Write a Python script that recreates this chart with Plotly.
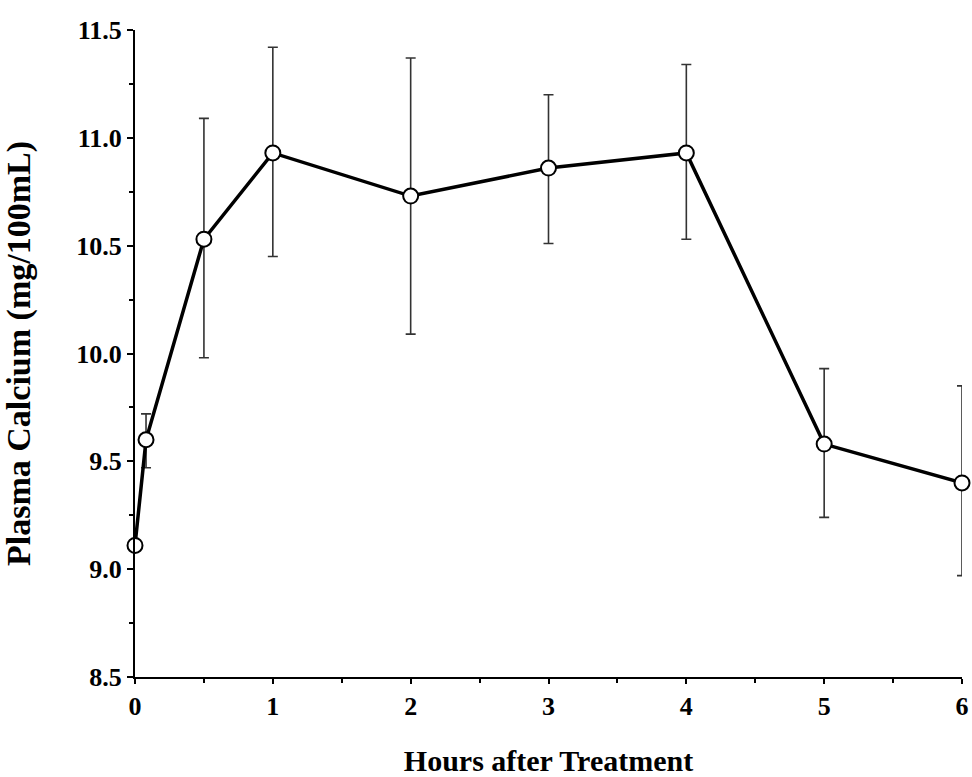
import plotly.graph_objects as go

hours = [0, 0.08, 0.5, 1, 2, 3, 4, 5, 6]
calcium_mean = [9.11, 9.60, 10.53, 10.93, 10.73, 10.86, 10.93, 9.58, 9.40]
calcium_upper = [9.11, 9.72, 11.09, 11.42, 11.37, 11.20, 11.34, 9.93, 9.85]
calcium_lower = [9.11, 9.47, 9.98, 10.45, 10.09, 10.51, 10.53, 9.24, 8.97]

y_tickvals = [8.5, 9.0, 9.5, 10.0, 10.5, 11.0, 11.5]
y_ticktext = ["8.5", "9.0", "9.5", "10.0", "10.5", "11.0", "11.5"]
x_tickvals = [0, 1, 2, 3, 4, 5, 6]
x_ticktext = ["0", "1", "2", "3", "4", "5", "6"]

err_plus = [u - m for u, m in zip(calcium_upper, calcium_mean)]
err_minus = [m - l for m, l in zip(calcium_mean, calcium_lower)]

serif = "Liberation Serif"

fig = go.Figure()
fig.add_trace(go.Scatter(
    x=hours, y=calcium_mean,
    mode="lines+markers",
    line=dict(color="black", width=3.5),
    marker=dict(symbol="circle", size=15, color="white",
                line=dict(color="black", width=2)),
    error_y=dict(type="data", symmetric=False, array=err_plus,
                 arrayminus=err_minus, color="#333", thickness=1.6, width=5),
    cliponaxis=False,
    showlegend=False,
))

fig.update_layout(
    width=972, height=777,
    margin=dict(l=135, r=10, t=30, b=100, autoexpand=False),
    paper_bgcolor="white", plot_bgcolor="white",
    font=dict(family=serif, color="black"),
    xaxis=dict(
        range=[0, 6], tickvals=x_tickvals, ticktext=x_ticktext,
        showline=True, linecolor="black", linewidth=2,
        ticks="outside", ticklen=5, tickwidth=1.5, tickcolor="black",
        minor=dict(dtick=0.5, ticks="outside", ticklen=4, tickcolor="black"),
        showgrid=False, zeroline=False, automargin=False,
        tickfont=dict(family=serif, size=26, weight="bold"),
        title=dict(text="Hours after Treatment", standoff=36,
                   font=dict(family=serif, size=30, weight="bold")),
    ),
    yaxis=dict(
        range=[8.5, 11.5], tickvals=y_tickvals, ticktext=y_ticktext,
        showline=True, linecolor="black", linewidth=2,
        ticks="outside", ticklen=6, tickwidth=1.5, tickcolor="black",
        minor=dict(dtick=0.25, tick0=8.5, ticks="outside", ticklen=4, tickcolor="black"),
        showgrid=False, zeroline=False, automargin=False,
        tickfont=dict(family=serif, size=26, weight="bold"),
        title=dict(text="Plasma Calcium (mg/100mL)", standoff=38,
                   font=dict(family=serif, size=34, weight="bold")),
    ),
)

fig.write_html("out.html")
